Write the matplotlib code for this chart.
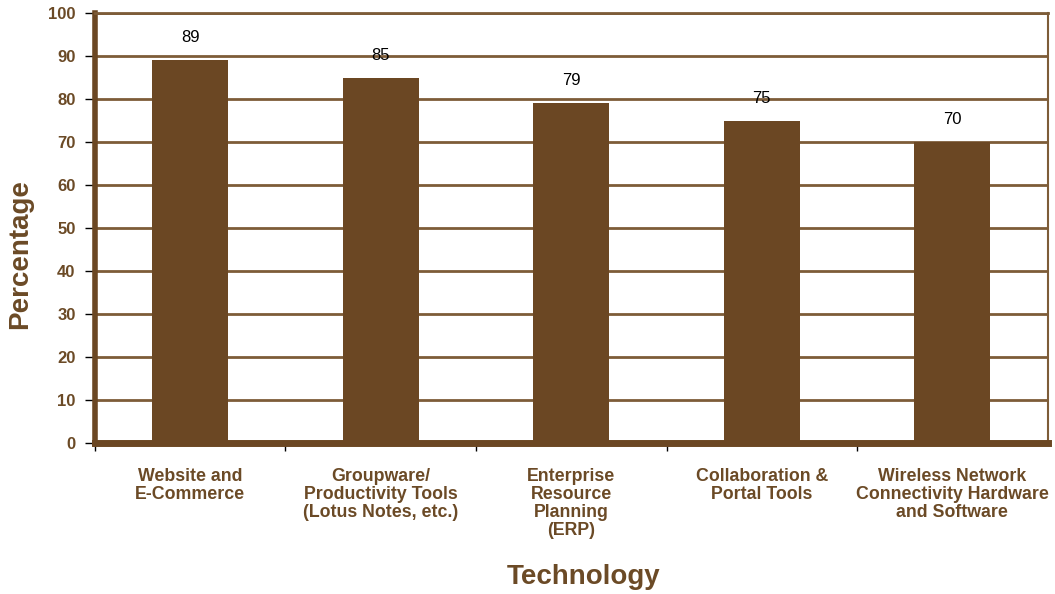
import matplotlib.pyplot as plt
from matplotlib.ticker import FixedLocator

plt.rcParams['font.family'] = ['Liberation Sans', 'DejaVu Sans']

categories = [
    "Website and\nE-Commerce",
    "Groupware/\nProductivity Tools\n(Lotus Notes, etc.)",
    "Enterprise\nResource\nPlanning\n(ERP)",
    "Collaboration &\nPortal Tools",
    "Wireless Network\nConnectivity Hardware\nand Software",
]
percentages = [89, 85, 79, 75, 70]
y_ticks = [0, 10, 20, 30, 40, 50, 60, 70, 80, 90, 100]

BROWN = '#6b4723'
TEXT = '#6b4a26'
GRID = '#7d5c38'

fig = plt.figure(figsize=(10.55, 5.94), dpi=100)
ax = fig.add_axes([0.090, 0.254, 0.903, 0.724])

x = range(len(categories))
bars = ax.bar(x, percentages, width=0.4, color=BROWN, zorder=3)

for xi, v in zip(x, percentages):
    ax.text(xi, v + 3.5, str(v), ha='center', va='bottom', fontsize=12, color='black')

ax.set_xlim(-0.5, len(categories) - 0.5)
ax.set_ylim(0, 100)

ax.set_yticks(y_ticks)
ax.set_yticklabels([str(t) for t in y_ticks], fontsize=12, fontweight='bold', color=TEXT)
ax.yaxis.grid(True, color=GRID, linewidth=2, zorder=1)
ax.tick_params(axis='y', direction='out', length=7, width=1, color='black', pad=7)

# category labels sit between the boundary ticks
ax.set_xticks(list(x))
ax.set_xticklabels(categories, fontsize=12.8, fontweight='bold', color=TEXT, linespacing=1.07)
ax.tick_params(axis='x', which='major', length=0, pad=18)
ax.xaxis.set_minor_locator(FixedLocator([i - 0.5 for i in range(len(categories))]))
ax.tick_params(axis='x', which='minor', direction='out', length=6, width=1, color='black')

for side, lw in (('left', 4), ('bottom', 5), ('right', 1.5), ('top', 2)):
    ax.spines[side].set_color(BROWN if side in ('left', 'bottom') else GRID)
    ax.spines[side].set_linewidth(lw)
    ax.spines[side].set_zorder(4)

ax.set_ylabel('Percentage', fontsize=20, fontweight='bold', color=TEXT)
ax.yaxis.set_label_coords(-0.065, 0.44)
ax.set_xlabel('Technology', fontsize=20, fontweight='bold', color=TEXT)
ax.xaxis.set_label_coords(0.513, -0.28)

fig.savefig('out.png', dpi=100)
